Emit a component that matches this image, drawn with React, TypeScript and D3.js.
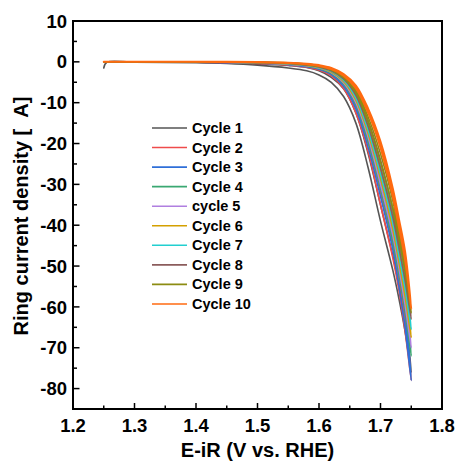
import React from "react";
import * as d3 from "d3";

const W = 457;
const H = 466;

const VOLTAGES = [1.25, 1.255, 1.3, 1.4, 1.45, 1.5, 1.55, 1.58, 1.6, 1.62, 1.64, 1.66, 1.68, 1.7, 1.72, 1.73, 1.74, 1.75];

const CYCLE_NAMES = ["Cycle 1", "Cycle 2", "Cycle 3", "Cycle 4", "cycle 5", "Cycle 6", "Cycle 7", "Cycle 8", "Cycle 9", "Cycle 10"];
const CYCLE_COLORS = ["#555555", "#ef4b4b", "#2f6fd8", "#3aa872", "#b07fe0", "#d4a000", "#22cfd0", "#8b5c5c", "#8c8c12", "#ff6a10"];

// forward scans (µA) on VOLTAGES
const FWD_1 = [-1.5, -0.1, -0.1, -0.2, -0.4, -0.8, -1.5, -2.2, -3.2, -5, -8.5, -15, -26, -39, -51, -58, -66, -76];
const FWD_2 = [0, 0, -0.05, -0.1, -0.2, -0.4, -0.8, -1.3, -2.0, -3.4, -6.5, -12.5, -22, -35, -48, -56, -66, -78];
const FWD_3 = [0, 0, -0.05, -0.1, -0.2, -0.35, -0.7, -1.2, -1.8, -3.1, -6, -11.5, -21, -33, -46, -55, -65, -78];
const FWD_4 = [0, 0, 0, -0.05, -0.1, -0.3, -0.6, -1.0, -1.6, -2.8, -5.4, -10.5, -19.5, -31, -44, -52, -61, -72];
const FWD_5 = [0, 0, 0, -0.05, -0.1, -0.25, -0.55, -0.95, -1.5, -2.6, -5.1, -10, -18.5, -30, -42.5, -50.5, -59.5, -70];
const FWD_6 = [0, 0, 0, -0.05, -0.1, -0.25, -0.5, -0.9, -1.4, -2.5, -4.8, -9.4, -17.6, -28.5, -41, -49, -57.5, -67.5];
const FWD_7 = [0, 0, 0, -0.05, -0.1, -0.2, -0.45, -0.85, -1.3, -2.3, -4.5, -8.8, -16.8, -27.5, -39.5, -47.5, -55.5, -65.5];
const FWD_8 = [0, 0, 0, -0.05, -0.1, -0.2, -0.4, -0.8, -1.25, -2.2, -4.2, -8.2, -15.8, -26, -38, -45.5, -53.5, -63];
const FWD_9 = [0, 0, 0, 0, -0.05, -0.15, -0.35, -0.7, -1.15, -2.0, -3.9, -7.5, -14.8, -24.5, -36, -43.5, -51.5, -61.5];
const FWD_10 = [0, 0, 0, 0, -0.05, -0.1, -0.3, -0.6, -1.0, -1.8, -3.4, -6.5, -12.5, -21, -33, -40.5, -48.5, -60.5];

// reverse scans (µA) on VOLTAGES
const REV_1 = [0, 0, 0, -0.1, -0.2, -0.4, -0.9, -1.4, -2.2, -3.8, -6.6, -12.5, -22.5, -35, -47.5, -54.5, -62.5, -76];
const REV_2 = [0, 0, 0, -0.05, -0.1, -0.3, -0.6, -1.0, -1.6, -2.8, -5.5, -11, -20, -32, -45, -53, -63, -78];
const REV_3 = [0, 0, 0, -0.05, -0.1, -0.25, -0.5, -0.9, -1.4, -2.5, -5, -10, -19, -30, -43, -51, -61, -78];
const REV_4 = [0, 0, 0, 0, -0.05, -0.2, -0.45, -0.8, -1.3, -2.3, -4.6, -9.2, -17.5, -28.5, -41, -49, -58, -72];
const REV_5 = [0, 0, 0, 0, -0.05, -0.15, -0.4, -0.75, -1.2, -2.2, -4.4, -8.8, -16.8, -27.5, -40, -48, -57, -70];
const REV_6 = [0, 0, 0, 0, -0.05, -0.15, -0.35, -0.7, -1.15, -2.1, -4.2, -8.4, -16, -26.5, -38.5, -46.5, -55, -67.5];
const REV_7 = [0, 0, 0, 0, -0.05, -0.1, -0.3, -0.65, -1.1, -2.0, -4.0, -8.0, -15.3, -25.5, -37.5, -45, -53, -65.5];
const REV_8 = [0, 0, 0, 0, 0, -0.1, -0.3, -0.6, -1.0, -1.9, -3.7, -7.4, -14.4, -24, -36, -43.5, -51, -63];
const REV_9 = [0, 0, 0, 0, 0, -0.1, -0.25, -0.55, -0.95, -1.7, -3.4, -6.8, -13.5, -22.5, -34, -41.5, -49.5, -61.5];
const REV_10 = [0, 0, 0, 0, 0, -0.05, -0.2, -0.45, -0.8, -1.5, -3.0, -5.8, -11.5, -19.5, -31, -38.5, -46.5, -60.5];

const FORWARD = [FWD_1, FWD_2, FWD_3, FWD_4, FWD_5, FWD_6, FWD_7, FWD_8, FWD_9, FWD_10];
const REVERSE = [REV_1, REV_2, REV_3, REV_4, REV_5, REV_6, REV_7, REV_8, REV_9, REV_10];

const X_TICKS = [1.2, 1.3, 1.4, 1.5, 1.6, 1.7, 1.8];
const X_MINOR = [1.25, 1.35, 1.45, 1.55, 1.65, 1.75];
const Y_TICKS = [10, 0, -10, -20, -30, -40, -50, -60, -70, -80];
const Y_MINOR = [5, -5, -15, -25, -35, -45, -55, -65, -75];

const FONT = "'Liberation Sans', Arial, Helvetica, sans-serif";

export default function App() {
  const left = 73, right = 442, top = 21, bottom = 409;
  const x = d3.scaleLinear().domain([1.2, 1.8]).range([left, right]);
  const y = d3.scaleLinear().domain([-85, 10]).range([bottom, top]);

  const line = d3
    .line<[number, number]>()
    .x((d) => x(d[0]))
    .y((d) => y(d[1]))
    .curve(d3.curveCatmullRom.alpha(0.5));

  const paths = FORWARD.map((fwd, i) => {
    const rev = REVERSE[i];
    const pts: [number, number][] = VOLTAGES.map((v, k) => [v, fwd[k]] as [number, number]);
    const back: [number, number][] = VOLTAGES.map((v, k) => [v, rev[k]] as [number, number])
      .slice(0, -1)
      .reverse();
    return line(pts.concat(back)) || "";
  });

  const tickSize = 18.5;
  const legendX1 = 152, legendX2 = 187, legendTextX = 192, legendY0 = 128, legendStep = 19.55;

  return (
    <svg
      width={W}
      height={H}
      style={{ position: "absolute", left: 0, top: 0, background: "#fff" }}
      fontFamily={FONT}
    >
      <rect x={0} y={0} width={W} height={H} fill="#fff" />
      <defs>
        <clipPath id="plotClip">
          <rect x={left} y={top} width={right - left} height={bottom - top} />
        </clipPath>
      </defs>

      <g clipPath="url(#plotClip)" fill="none" strokeLinejoin="round" strokeLinecap="round">
        {paths.map((d, i) => (
          <path key={i} d={d} stroke={CYCLE_COLORS[i]} strokeWidth={i === 9 ? 2 : 1.6} />
        ))}
      </g>

      {/* ticks */}
      <g stroke="#000" strokeWidth={1.5}>
        {X_TICKS.map((t) => (
          <line key={"xt" + t} x1={x(t)} x2={x(t)} y1={bottom} y2={bottom - 6} />
        ))}
        {X_MINOR.map((t) => (
          <line key={"xm" + t} x1={x(t)} x2={x(t)} y1={bottom} y2={bottom - 3.5} />
        ))}
        {Y_TICKS.map((t) => (
          <line key={"yt" + t} x1={left} x2={left + 6.5} y1={y(t)} y2={y(t)} />
        ))}
        {Y_MINOR.map((t) => (
          <line key={"ym" + t} x1={left} x2={left + 4} y1={y(t)} y2={y(t)} />
        ))}
      </g>

      {/* frame */}
      <rect x={left} y={top} width={right - left} height={bottom - top} fill="none" stroke="#000" strokeWidth={2} />

      {/* tick labels */}
      <g fontSize={tickSize} fontWeight="bold" fill="#000">
        {X_TICKS.map((t) => (
          <text key={"xl" + t} x={x(t)} y={432} textAnchor="middle">
            {d3.format(".1f")(t)}
          </text>
        ))}
        {Y_TICKS.map((t) => (
          <text key={"yl" + t} x={67} y={y(t) + tickSize * 0.358} textAnchor="end">
            {t}
          </text>
        ))}
      </g>

      {/* axis titles */}
      <text x={(left + right) / 2} y={457} textAnchor="middle" fontSize={20} fontWeight="bold" fill="#000">
        E-iR (V vs. RHE)
      </text>
      <text
        transform={`translate(28, 216) rotate(-90)`}
        textAnchor="middle"
        fontSize={20}
        fontWeight="bold"
        fill="#000"
      >
        {"Ring current density [\u00a0\u00a0A]"}
      </text>

      {/* legend */}
      <g>
        {CYCLE_NAMES.map((name, i) => {
          const cy = legendY0 + i * legendStep;
          return (
            <g key={name}>
              <line x1={legendX1} x2={legendX2} y1={cy} y2={cy} stroke={CYCLE_COLORS[i]} strokeWidth={1.6} />
              <text x={legendTextX} y={cy + 5} fontSize={14.5} fontWeight="bold" fill="#000">
                {name}
              </text>
            </g>
          );
        })}
      </g>
    </svg>
  );
}
